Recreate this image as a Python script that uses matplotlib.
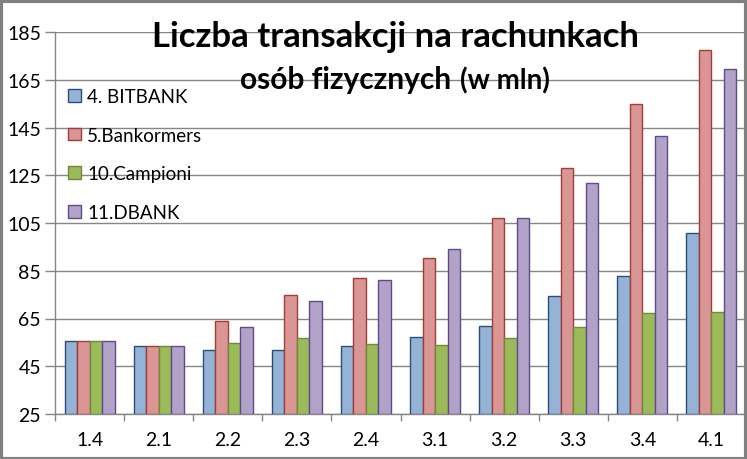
import matplotlib
matplotlib.use("Agg")
import matplotlib.pyplot as plt
from matplotlib.patches import Patch, Rectangle
import numpy as np

plt.rcParams['font.family'] = ['Lato', 'DejaVu Sans']

categories = ["1.4", "2.1", "2.2", "2.3", "2.4", "3.1", "3.2", "3.3", "3.4", "4.1"]
series_names = ["4. BITBANK", "5.Bankormers", "10.Campioni", "11.DBANK"]
bitbank = [55.4, 53.4, 51.7, 51.7, 53.4, 57.1, 61.7, 74.3, 82.7, 100.7]
bankormers = [55.4, 53.4, 63.8, 74.7, 81.8, 90.2, 107.0, 127.9, 154.7, 177.3]
campioni = [55.4, 53.4, 54.6, 56.7, 54.2, 53.8, 56.7, 61.3, 67.2, 67.6]
dbank = [55.4, 53.4, 61.3, 72.2, 81.0, 94.0, 107.0, 121.6, 141.4, 169.4]
yticks = [25, 45, 65, 85, 105, 125, 145, 165, 185]

fills = ["#95B3D7", "#D99694", "#9BBB59", "#B3A2C7"]
edges = ["#2C4D75", "#A33C38", "#71893F", "#5F4B8B"]

W, H = 747, 460
fig = plt.figure(figsize=(W / 100, H / 100), dpi=100)
ax = fig.add_axes([55 / W, (H - 415) / H, 691 / W, 382 / H])

x = np.arange(len(categories))
bw = 0.181
data = [bitbank, bankormers, campioni, dbank]
for i, vals in enumerate(data):
    ax.bar(x + (i - 1.5) * bw, np.array(vals) - 25, bottom=25, width=bw,
           color=fills[i], edgecolor=edges[i], linewidth=1.0, zorder=3)

ax.set_xlim(-0.5, len(categories) - 0.5)
ax.set_ylim(25, 185)
ax.set_yticks(yticks)
ax.set_xticks(x)
ax.set_xticklabels(categories)
ax.set_xticks(np.arange(-0.5, len(categories), 1.0), minor=True)
ax.tick_params(axis='x', which='major', length=0, pad=12, labelsize=14)
ax.tick_params(axis='x', which='minor', length=5, width=1, color='#868686', direction='out')
ax.tick_params(axis='y', length=7, width=1, color='#868686', pad=3, labelsize=14)
ax.grid(axis='y', color='#868686', linewidth=1, zorder=0)
ax.set_axisbelow(True)
for s in ['top', 'right']:
    ax.spines[s].set_visible(False)
for s in ['left', 'bottom']:
    ax.spines[s].set_color('#868686')
    ax.spines[s].set_linewidth(1)

handles = [Patch(facecolor=fills[i], edgecolor=edges[i], linewidth=1) for i in range(4)]
leg = ax.legend(handles, series_names, loc='upper left',
                bbox_to_anchor=((68 - 55) / 691, (415 - 89) / 382),
                frameon=False, fontsize=13.5, handlelength=0.68, handleheight=0.68,
                handletextpad=0.35, labelspacing=1.15, borderaxespad=0, borderpad=0)
leg.set_zorder(5)

fig.text(395 / W, 1 - 47 / H, "Liczba transakcji na rachunkach", ha='center',
         va='baseline', fontsize=25, fontweight='bold', zorder=10)
fig.text(451 / W, 1 - 89 / H, "osób fizycznych", ha='right', va='baseline',
         fontsize=21.5, fontweight='bold', zorder=10)
fig.text(460 / W, 1 - 89 / H, "(w mln)", ha='left', va='baseline',
         fontsize=20, fontweight='bold', zorder=10)

# outer border
fig.patches.append(Rectangle((0.5 / W, 0.5 / H), 1 - 2 / W, 1 - 2 / H, transform=fig.transFigure,
                             fill=False, edgecolor='#808080', linewidth=3, zorder=20))

fig.savefig("out.png", dpi=100)
